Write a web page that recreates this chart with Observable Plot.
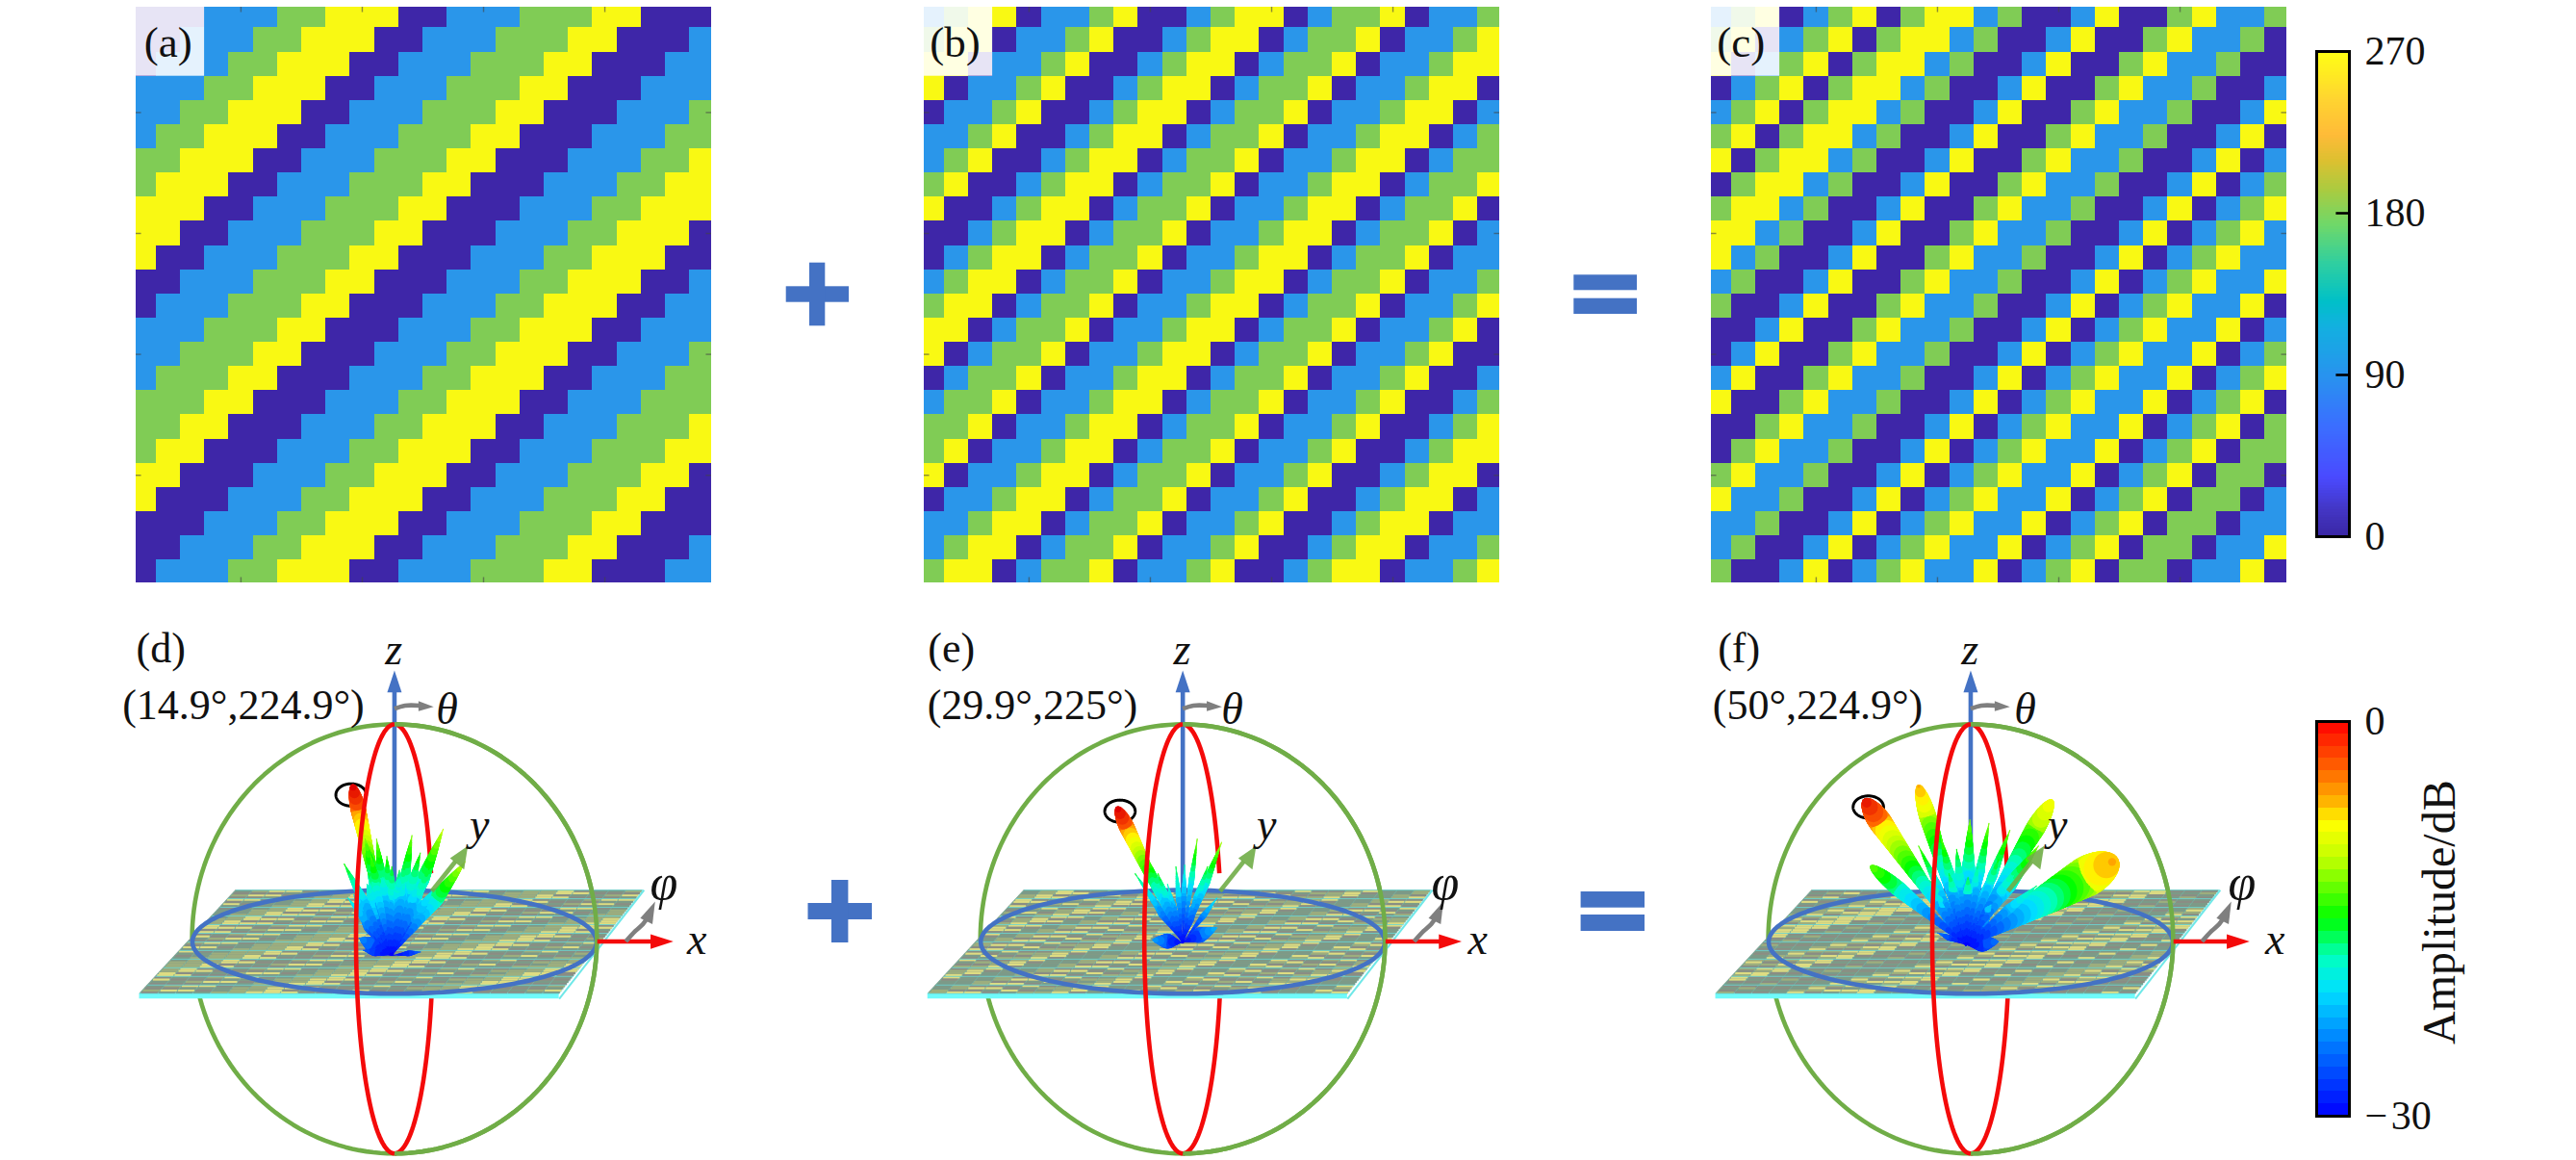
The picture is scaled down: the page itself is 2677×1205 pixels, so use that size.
<!DOCTYPE html>
<html><head><meta charset="utf-8">
<script src="https://cdn.jsdelivr.net/npm/d3@7"></script>
<script src="https://cdn.jsdelivr.net/npm/@observablehq/plot@0.6"></script>
<style>
html,body{margin:0;padding:0;background:#fff}
#page{position:relative;width:2677px;height:1205px;overflow:hidden;background:#fff}
#page>div{position:absolute}
#page svg{display:block;max-width:none;overflow:visible}
</style></head><body><div id="page"></div>
<script>
const FONT = "'Liberation Serif', serif";

// Phase of each coding cell, row by row, digit × 90 degrees
const gridA = ["000111223330011122233000","001112233300111222330001","011122333001112223300011","111223330011122233000111","112233300111222330001112","122333001112223300011122","223330011122233000111223","233300111222330001112233","333001112223300011122333","330011122233000111223330","300111222330001112233300","001112223300011122333001","011122233000111223330011","111222330001112233300111","112223300011122333001112","122233000111223330011122","222330001112233300111222","223300011122333001112223","233000111223330011122233","330001112233300111222330","300011122333001112223300","000111223330011122233000","001112233300111222330001","011122333001112223300011"];
const gridB = ["123301123001233012230112","233011230012330122301123","330112300123301223011233","301123001233012230112330","011230012330122301123301","112300123301223011233012","123001233012230112330122","230012330122301123301223","300123301223011233012230","001233012230112330122301","012330122301123301223011","123301223011233012230112","233012230112330122301123","330122301123301223011230","301223011233012230112300","012230112330122301123001","122301123301223011230012","223011233012230112300123","230112330122301123001233","301123301223011230012330","011233012230112300123301","112330122301123001233011","123301223011230012330112","233012230112300123301123"];
const gridC = ["123012302331200130023112","230123023312001300231120","301230233120013002311200","012302331200130023112001","123023312001300231120013","230233120013002311200130","302331200130023112001301","023312001300231120013012","233120013002311200130123","331200130023112001301231","312001300231120013012311","120013002311200130123113","200130023112001301231130","001300231120013012311301","013002311200130123113012","130023112001301231130123","300231120013012311301230","002311200130123113012302","023112001301231130123022","231120013012311301230220","311200130123113012302201","112001301231130123022011","120013012311301230220113","200130123113012302201130"];
const phaseLevels = [0, 90, 180, 270];
const phaseColors = ["#3E26A8", "#2A96EA", "#80CC55", "#F9F913"];
const plateColors = ["#8A8D84", "#7C9A88", "#9DAE7E", "#DEDC82"];
const tickCells = [4.5, 9.5, 14.5, 19.5];

// Phase colour bar
const phaseBarValues = [0,14,32,62,86,116,130,151,173,192,208,223,243,269,270];
const phaseBarColors = ["#3A27A6","#4336C4","#4A4AFF","#3A70FF","#2A90F0","#12B0E0","#00C0C8","#2FCFA0","#70D868","#AACB40","#DCC030","#FFBB38","#FFD530","#FFFF14","#FFFF14"];
const phaseTicks = [0, 90, 180, 270];

// Amplitude colour bar (dB)
const jetDb = [-30,-25,-20.5,-18,-15,-10.5,-7.8,-6,-3.5,0];
const jetColors = ["#0000FF","#0070FF","#00E0FF","#00FFC0","#00FF00","#BFFF00","#FFFF00","#FFB000","#FF6000","#E00000"];
const ampLevels = d3.range(32);
const ampTicks = [-30, 0];

// Radiation lobes: tip column, tip row, half width, tip dB, widest point
const lobesD = [[640,925,8,-24,.6],[800,965,3,-26,.6],[650,960,4,-26,.6],[625,800,10,-20,.5],[660,770,10,-18,.5],[700,750,10,-18,.5],[745,750,10,-18,.5],[790,780,10,-19,.5],[830,790,8,-19,.5],[600,712,5,-15,.6],[610,810,4,-19,.6],[655,640,7,-12,.6],[670,690,7,-13,.6],[685,640,6,-12,.6],[712,690,6,-14,.6],[725,720,6,-15,.6],[745,730,6,-16,.6],[760,700,5,-15,.6],[778,630,6,-12,.6],[800,680,6,-14,.6],[825,720,6,-15,.6],[860,612,7,-10,.6],[918,705,8,-10,.6],[622,485,8,0,.85]];
const lobesE = [[650,930,8,-23,.5],[820,895,8,-22,.5],[700,820,5,-22,.6],[760,820,5,-22,.6],[640,800,4,-20,.6],[820,810,3,-20,.6],[605,740,3,-16,.6],[640,700,4,-13,.6],[665,740,4,-15,.6],[690,770,3,-18,.6],[712,720,3,-16,.6],[735,715,3,-18,.6],[768,640,3,-12,.6],[795,720,4,-15,.6],[832,650,4,-11,.6],[558,550,8,0,.85]];
const lobesF = [[640,910,3,-25,.6],[800,935,9,-25,.5],[465,718,8,-13,.7],[590,660,4,-13,.6],[590,487,9,-6,.8],[620,760,7,-17,.6],[650,640,6,-13,.6],[670,740,7,-16,.6],[690,670,6,-15,.6],[725,585,7,-12,.6],[775,595,5,-12,.6],[830,615,5,-12,.6],[745,720,6,-17,.6],[720,750,7,-16,.6],[800,700,6,-15,.6],[850,720,6,-16,.6],[905,660,7,-12,.6],[900,775,5,-17,.6],[640,800,9,-19,.5],[780,830,10,-21,.5],[940,530,10,-8,.8],[1100,705,21,-6,.82],[450,530,12,-1,.85]];

const heatPanels = [
  {label:"(a)", grid:gridA, left:141.1, top:7, labelX:1.5},
  {label:"(b)", grid:gridB, left:959.9, top:7, labelX:1.45},
  {label:"(c)", grid:gridC, left:1777.9, top:7, labelX:1.4}
];
const beamPanels = [
  {label:"(d)", angles:"(14.9°,224.9°)", grid:gridA, under:gridB, lobes:lobesD, left:120, cx:732, base:[725,975], ring:[618,513], labelX:118, anglesX:335, thetaX:138, yX:223, phiX:708, xX:795},
  {label:"(e)", angles:"(29.9°,225°)", grid:gridB, under:gridC, lobes:lobesE, left:940, cx:730, base:[730,938], ring:[565,560], labelX:122, anglesX:335, thetaX:130, yX:220, phiX:690, xX:775},
  {label:"(f)", angles:"(50°,224.9°)", grid:gridC, under:gridA, lobes:lobesF, left:1760, cx:727, base:[715,945], ring:[458,548], labelX:118, anglesX:325, thetaX:143, yX:228, phiX:713, xX:800}
];
const plusSigns = [{x1:816.7,x2:882,y1:297.3,y2:313.7},{x1:841,x2:857.3,y1:272.7,y2:338.3},{x1:839.5,x2:906,y1:938,y2:955},{x1:864,x2:881.4,y1:914,y2:979}];
const equalSigns = [{x1:1635.3,x2:1701,y1:285.3,y2:301.3},{x1:1635.3,x2:1701,y1:309.7,y2:326},{x1:1642.6,x2:1709,y1:926,y2:942.7},{x1:1642.6,x2:1709,y1:950,y2:967}];

const page = document.getElementById("page");
function place(svg, left, top){const d=document.createElement("div");d.style.left=left+"px";d.style.top=top+"px";d.appendChild(svg);page.appendChild(d);}
const cellsOf = grid => grid.flatMap((row,r)=>[...row].map((c,k)=>({col:k,row:r,v:+c*90})));

// Signs
place(Plot.plot({width:2677,height:1205,margin:0,style:{background:"none"},
  x:{domain:[0,2677],axis:null},y:{domain:[0,1205],range:[0,1205],axis:null},
  marks:[Plot.rect([...plusSigns,...equalSigns],{x1:"x1",x2:"x2",y1:"y1",y2:"y2",fill:"#4472C4"})]}),0,0);

// Coding patterns
const dom = {x:[0.18,23.9], y:[0.146,23.95]};
for (const p of heatPanels){
  const tick = 0.22;
  const tickStyle = {stroke:"#444",strokeOpacity:.6,strokeWidth:1.4};
  place(Plot.plot({width:598,height:598,margin:0,style:{background:"none",fontFamily:FONT},
    x:{domain:dom.x,axis:null},y:{domain:dom.y,range:[0,598],axis:null},
    color:{type:"ordinal",domain:phaseLevels,range:phaseColors},
    marks:[
      Plot.rect(cellsOf(p.grid),{x1:"col",x2:d=>d.col+1,y1:"row",y2:d=>d.row+1,fill:"v",clip:true,shapeRendering:"crispEdges"}),
      Plot.ruleX(tickCells,{y1:dom.y[0],y2:dom.y[0]+tick,...tickStyle}),
      Plot.ruleX(tickCells,{y1:dom.y[1],y2:dom.y[1]-tick,...tickStyle}),
      Plot.ruleY(tickCells,{x1:dom.x[0],x2:dom.x[0]+tick,...tickStyle}),
      Plot.ruleY(tickCells,{x1:dom.x[1],x2:dom.x[1]-tick,...tickStyle}),
      Plot.rect([0],{x1:dom.x[0],x2:3,y1:dom.y[0],y2:3,fill:"#fff",fillOpacity:.88}),
      Plot.text([p.label],{x:p.labelX,y:1.62,text:d=>d,fontSize:45,fontFamily:FONT,fill:"#111"})
    ]}),p.left,p.top);
}

// Beam panels (scales in reading units of the panel)
function arc(cx,cy,rx,ry,a0,a1){const n=Math.max(8,Math.ceil(Math.abs(a1-a0)/2));
  return d3.range(n+1).map(i=>{const a=(a0+(a1-a0)*i/n)*Math.PI/180;return {x:cx+rx*Math.cos(a),y:cy-ry*Math.sin(a)};});}
function poly(points){return points.map(([x,y])=>({x,y}));}
function lobeDots(lobes,base){
  const dots=[];
  lobes.forEach(([tx,ty,hw,db,peak],id)=>{
    const len=Math.hypot((tx-base[0])*0.395,(ty-base[1])*0.361);
    const n=Math.ceil(len*1.6);
    for(let i=0;i<=n;i++){
      const t=i/n;
      let k;
      if(t<peak)k=Math.pow(t/peak,peak>=.7?.8:1.15);
      else if(peak<.7)k=Math.pow(1-(t-peak)/(1-peak),.8);
      else k=Math.sqrt(Math.max(0,1-((t-peak)/(1-peak))**2));
      const raw=-30+(db+30)*t;
      dots.push({id,x:base[0]+(tx-base[0])*t,y:base[1]+(ty-base[1])*t,r:Math.max(.6,hw*k),db:Math.round(raw/(30/32))*(30/32)});
    }
  });
  return dots;
}
const SPH={cy:927.5,rx:532,ry:617.5}, EQ={cy:936,rx:531,ry:149}, REDRX=101;
const LW=4.6;
for (const p of beamPanels){
  const c=p.cx;
  const backL=c-417,backR=c+653,frontL=c-670,frontR=c+433,backY=787,frontY=1085,rimY=1100;
  const plate=(u,v)=>{const s=v/24;const l=backL+(frontL-backL)*s,r=backR+(frontR-backR)*s;return {x:l+(r-l)*u/24,y:backY+(frontY-backY)*s};};
  const dash=(cells,level,off)=>Plot.link(cells.filter(d=>d.v===level),{
    x1:d=>plate(d.col+.02,d.row+off).x,y1:d=>plate(d.col,d.row+off).y,
    x2:d=>plate(d.col+.98,d.row+off).x,y2:d=>plate(d.col,d.row+off).y,
    stroke:plateColors[level/90],strokeWidth:2.1,strokeLinecap:"butt"});
  const top=cellsOf(p.grid), low=cellsOf(p.under);
  const rowLines=d3.range(0,25,2), colLines=d3.range(0,25);
  const GREEN="#70AD47",RED="#F40A0A",BLUE="#4472C4",GREY="#7F7F7F",YGREEN="#70AD47";
  const fillShape=(pts,fill,opts={})=>Plot.line(poly(pts),{x:"x",y:"y",fill,stroke:"none",...opts});
  const stroke=(data,col,w,opts={})=>Plot.line(data,{x:"x",y:"y",stroke:col,strokeWidth:w,curve:"linear",strokeLinecap:"butt",...opts});
  const txt=(t,x,y,it=true,fs=46)=>Plot.text([t],{x,y,text:d=>d,fontSize:fs,fontFamily:FONT,fontStyle:it?"italic":"normal",fill:"#111"});
  place(Plot.plot({width:620,height:565,margin:0,style:{background:"none",fontFamily:FONT},
    x:{domain:[0,1568],axis:null},y:{domain:[0,1565],range:[0,565],axis:null},
    r:{type:"identity"},
    color:{type:"linear",domain:jetDb,range:jetColors,clamp:true},
    marks:[
      // back: sphere, right red arc, z axis
      stroke(arc(c,SPH.cy,SPH.rx,SPH.ry,0,360),GREEN,LW),
      stroke(arc(c,SPH.cy,REDRX,SPH.ry,17.8,90),RED,LW),
      stroke(arc(c,SPH.cy,REDRX,SPH.ry,-90,-15.6),RED,LW),
      stroke(poly([[c,900],[c,215]]),BLUE,LW),
      fillShape([[c,155],[c-19,218],[c+19,218]],BLUE),
      // plate
      Plot.areaX([{y:backY,a:backL,b:backR},{y:frontY,a:frontL,b:frontR}],{y:"y",x1:"a",x2:"b",fill:"#8A9C84"}),
      Plot.areaX([{y:frontY,a:frontL,b:frontR},{y:rimY,a:frontL,b:frontR}],{y:"y",x1:"a",x2:"b",fill:"#6FFAFA"}),
      ...phaseLevels.map(l=>dash(low,l,.27)),
      ...phaseLevels.map(l=>dash(top,l,.73)),
      Plot.link(rowLines,{x1:v=>plate(0,v).x,y1:v=>plate(0,v).y,x2:v=>plate(24,v).x,y2:v=>plate(24,v).y,stroke:"#66DCDC",strokeWidth:1,strokeOpacity:.75}),
      Plot.link(colLines,{x1:u=>plate(u,0).x,y1:backY,x2:u=>plate(u,24).x,y2:frontY,stroke:"#5CC8C8",strokeWidth:.9,strokeOpacity:.45}),
      stroke(poly([[frontR,rimY],[backR+3,backY]]),"#6FE8E8",2),
      // equator
      stroke(arc(c,EQ.cy,EQ.rx,EQ.ry,0,360),BLUE,LW),
      // helix marker + lobes
      stroke(arc(p.ring[0],p.ring[1],40,32,0,360),"#000",3),
      Plot.dot(lobeDots(p.lobes,p.base),{x:"x",y:"y",r:"r",fill:"db",stroke:"none"}),
      // front: right sphere half, left red arc, axes
      stroke(arc(c,SPH.cy,SPH.rx,SPH.ry,-90,90),GREEN,LW),
      stroke(arc(c,SPH.cy,REDRX,SPH.ry,90,270),RED,LW),
      stroke(poly([[c+98,790],[c+160,705]]),YGREEN,LW,{strokeOpacity:.9}),
      fillShape([[925+c-732,660],[878+c-732,695],[915+c-732,728]],YGREEN,{fillOpacity:.9}),
      stroke(poly([[c+533,935],[c+675,935]]),RED,LW),
      fillShape([[c+733,935],[c+673,914],[c+673,956]],RED),
      stroke(poly([[c+608,935],[c+633,905],[c+653,885],[c+665,865]]),GREY,LW,{curve:"catmull-rom"}),
      fillShape([[c+685,820],[c+646,868],[c+678,885]],GREY),
      stroke(poly([[c,265],[c+28,256],[c+66,256]]),GREY,LW,{curve:"catmull-rom"}),
      fillShape([[c+103,260],[c+63,243],[c+63,272]],GREY),
      // text
      txt(p.label,p.labelX,92,false,44),
      txt(p.angles,p.anglesX,255,false,44),
      txt("z",c-2,97),
      txt("θ",c+p.thetaX,268),
      txt("y",c+p.yX,600),
      txt("φ",c+p.phiX,768,true,52),
      txt("x",c+p.xX,930)
    ]}),p.left,640);
}

// Phase colour bar
{
  const levels=d3.range(0,270,1.5);
  place(Plot.plot({width:282,height:560,marginLeft:12,marginRight:236,marginTop:23,marginBottom:33,style:{background:"none",fontFamily:FONT},
    x:{domain:[0,1],axis:null},y:{domain:[0,270]},
    color:{type:"linear",domain:phaseBarValues,range:phaseBarColors},
    marks:[
      Plot.rect(levels,{x1:0,x2:1,y1:d=>d,y2:d=>d+1.5,fill:d=>d,shapeRendering:"crispEdges"}),
      Plot.frame({stroke:"#000",strokeWidth:3}),
      Plot.ruleY([90,180],{x1:.6,x2:1,stroke:"#000",strokeWidth:2.6}),
      Plot.axisY({anchor:"right",ticks:phaseTicks,tickSize:0,tickPadding:16,label:null,fontSize:42,fontFamily:FONT,fill:"#111"})
    ]}),2395,30);
}
// Amplitude colour bar
{
  const step=30/32;
  place(Plot.plot({width:282,height:480,marginLeft:12,marginRight:236,marginTop:29,marginBottom:41,style:{background:"none",fontFamily:FONT},
    x:{domain:[0,1],axis:null},y:{domain:[-30,0]},
    color:{type:"linear",domain:jetDb,range:["#0000FF","#0070FF","#00E0FF","#00FFC0","#00FF00","#BFFF00","#FFFF00","#FFB000","#FF6000","#FF0000"]},
    marks:[
      Plot.rect(ampLevels,{x1:0,x2:1,y1:i=>-30+i*step,y2:i=>-30+(i+1)*step,fill:i=>-30+(i+.5)*step,shapeRendering:"crispEdges"}),
      Plot.frame({stroke:"#000",strokeWidth:3}),
      Plot.axisY({anchor:"right",ticks:ampTicks,tickSize:0,tickPadding:16,label:null,fontSize:42,fontFamily:FONT,fill:"#111",tickFormat:d=>d<0?"−\u200A"+Math.abs(d):String(d)}),
      Plot.text(["Amplitude/dB"],{x:3.78,y:-14.5,text:d=>d,rotate:-90,fontSize:48,fontFamily:FONT,fill:"#111"})
    ]}),2395,720);
}
</script></body></html>
